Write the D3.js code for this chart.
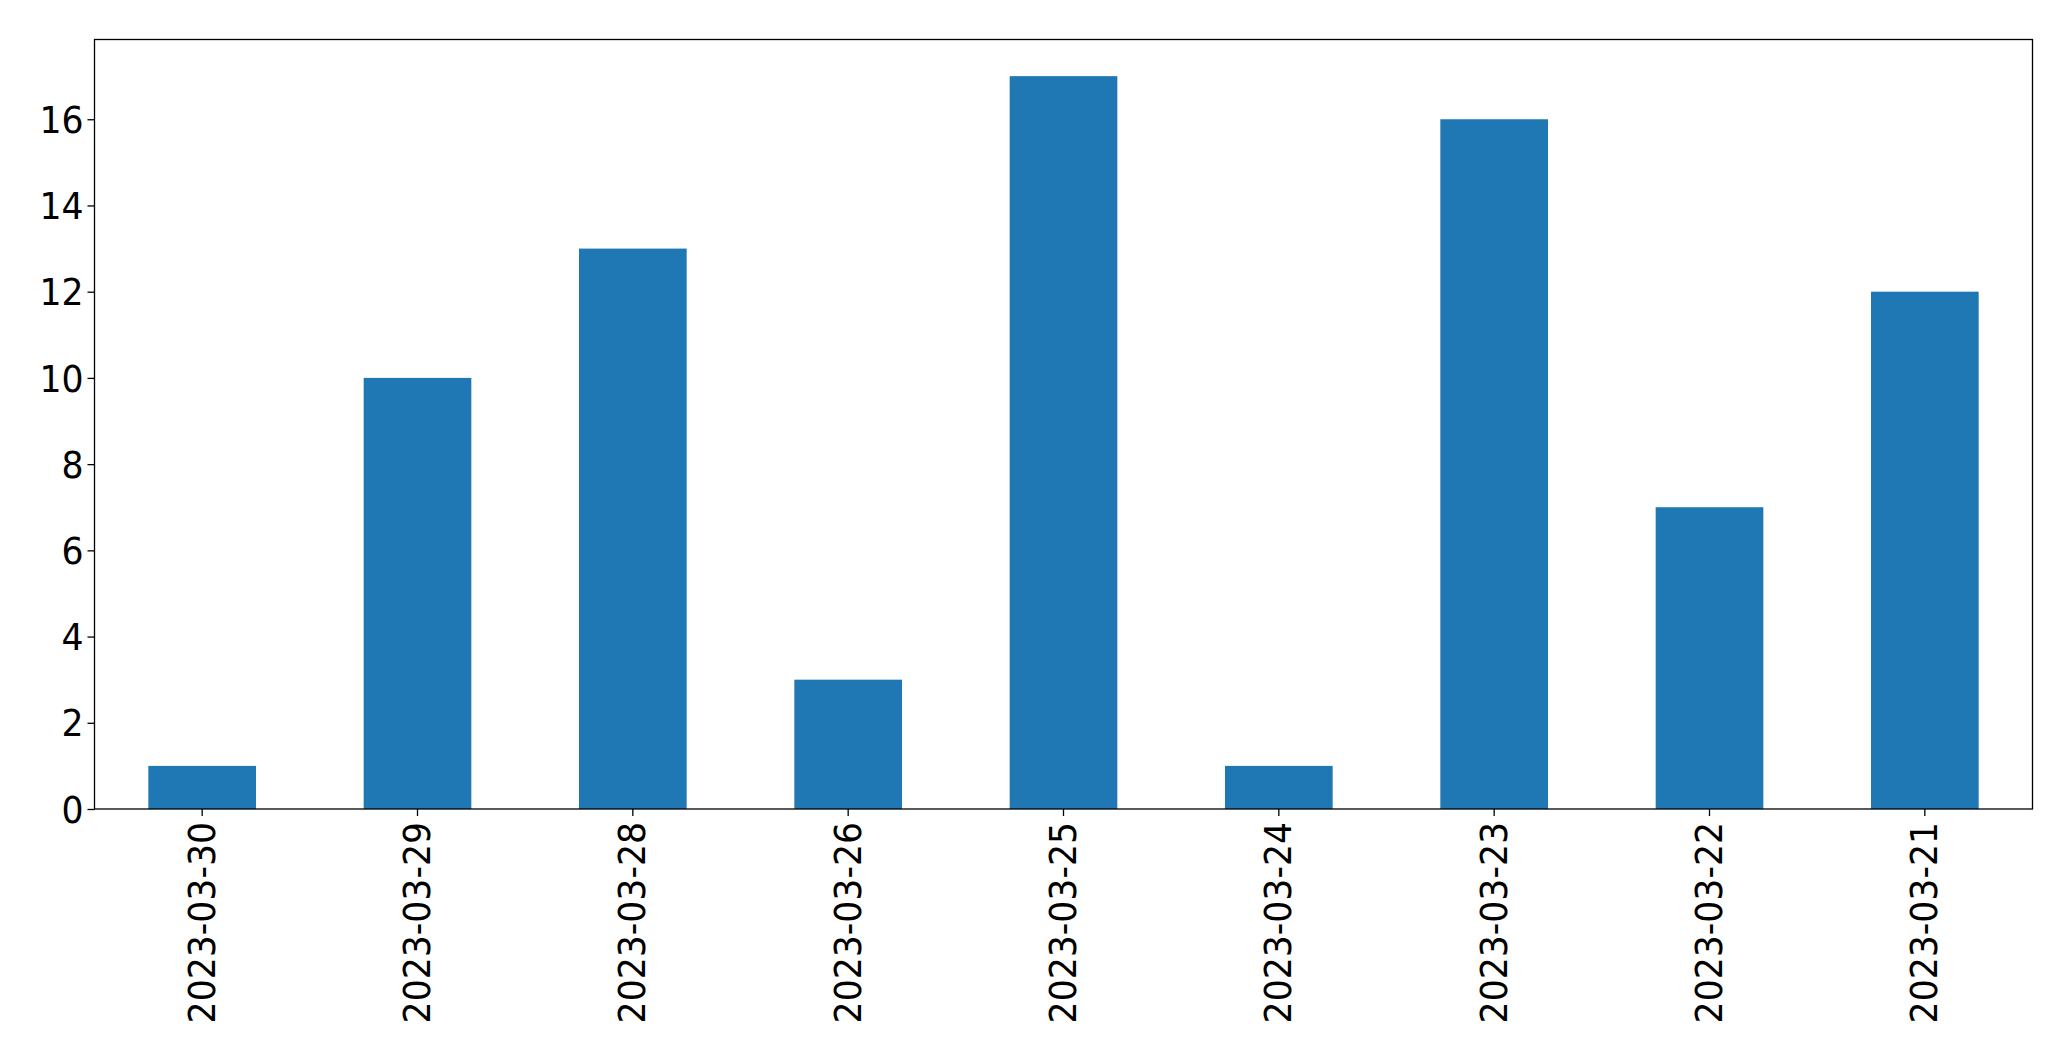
<!DOCTYPE html>
<html>
<head>
<meta charset="utf-8">
<script src="https://cdn.jsdelivr.net/npm/d3@7"></script>
<style>
html,body{margin:0;padding:0;background:#fff;}
svg{display:block;}
</style>
</head>
<body>
<svg id="chart" width="2071" height="1061"></svg>
<script>
const categories = ["2023-03-30","2023-03-29","2023-03-28","2023-03-26","2023-03-25","2023-03-24","2023-03-23","2023-03-22","2023-03-21"];
const values = [1,10,13,3,17,1,16,7,12];
const yTicks = [0,2,4,6,8,10,12,14,16];

const W = 2071, H = 1061;
const m = {left: 94.5, right: 2032.5, top: 39.5, bottom: 809};
const svg = d3.select("#chart");
const font = "'DejaVu Sans', sans-serif";
const fs = 36.5;
const sx = 0.95;

const x = d3.scaleBand().domain(categories).range([m.left, m.right]).paddingInner(0.5).paddingOuter(0.25);
const y = d3.scaleLinear().domain([0, d3.max(values) * 1.05]).range([m.bottom, m.top]);

svg.append("g").selectAll("rect").data(values).join("rect")
  .attr("x", (d, i) => x(categories[i]))
  .attr("width", x.bandwidth())
  .attr("y", d => y(d))
  .attr("height", d => y(0) - y(d))
  .attr("fill", "#1f77b4");

// y axis
const yAxis = d3.axisLeft(y).tickValues(yTicks).tickSize(7).tickPadding(0).tickFormat(d3.format("d"));
const gy = svg.append("g").attr("transform", `translate(${m.left},0)`).call(yAxis);
gy.select(".domain").remove();
gy.selectAll(".tick line").attr("stroke", "#000").attr("stroke-width", 1.3);
gy.selectAll(".tick text")
  .attr("font-family", font).attr("font-size", fs).attr("fill", "#000")
  .attr("x", null).attr("dy", "0.36em")
  .attr("transform", `translate(-11,0) scale(${sx},1)`);

// x axis
const xAxis = d3.axisBottom(x).tickSize(7).tickPadding(0);
const gx = svg.append("g").attr("transform", `translate(0,${m.bottom})`).call(xAxis);
gx.select(".domain").remove();
gx.selectAll(".tick line").attr("stroke", "#000").attr("stroke-width", 1.3);
gx.selectAll(".tick text")
  .attr("font-family", font).attr("font-size", fs).attr("fill", "#000")
  .attr("text-anchor", "end")
  .attr("x", 0)
  .attr("y", 0)
  .attr("dy", "0.34em")
  .attr("transform", `rotate(-90) translate(-13,0) scale(${sx},1)`);

// frame
svg.append("rect")
  .attr("x", m.left).attr("y", m.top)
  .attr("width", m.right - m.left).attr("height", m.bottom - m.top)
  .attr("fill", "none").attr("stroke", "#000").attr("stroke-width", 1.3);
</script>
</body>
</html>
